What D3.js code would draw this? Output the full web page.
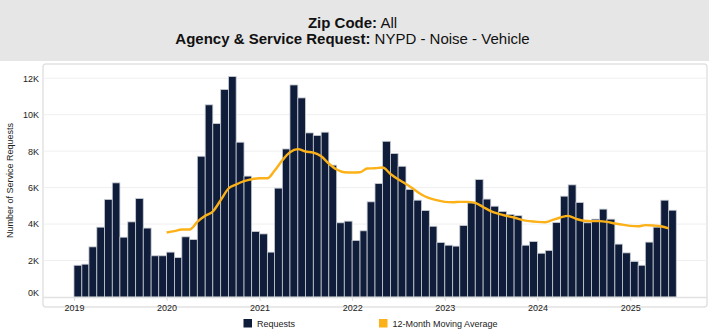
<!DOCTYPE html>
<html>
<head>
<meta charset="utf-8">
<script src="https://cdn.jsdelivr.net/npm/d3@7"></script>
<style>
  html, body { margin: 0; padding: 0; background: #fff; }
  svg { display: block; font-family: "Liberation Sans", Arial, sans-serif; }
</style>
</head>
<body>
<div id="chart"></div>
<script>
// monthly request counts, Jan 2019 .. Jun 2025 (thousands)
var firstMonth = new Date(2019, 0, 1);
var requests = [
  1.74, 1.80, 2.75, 3.83, 5.35, 6.26, 3.28, 4.12, 5.40, 3.78, 2.26, 2.26,
  2.46, 2.16, 3.30, 3.15, 7.72, 10.54, 9.51, 11.38, 12.09, 8.49, 6.63, 3.59,
  3.46, 2.46, 5.97, 8.12, 11.63, 10.92, 9.00, 8.86, 9.04, 7.23, 4.07, 4.16,
  3.10, 3.63, 5.22, 6.22, 8.54, 7.87, 7.17, 5.90, 5.31, 4.74, 3.88, 2.99,
  2.84, 2.79, 3.92, 5.16, 6.44, 5.37, 4.98, 4.69, 4.53, 4.46, 2.84, 3.04,
  2.40, 2.55, 4.08, 5.53, 6.15, 5.18, 4.07, 4.27, 4.82, 4.27, 2.90, 2.42,
  1.95, 1.74, 3.01, 3.83, 5.31, 4.76
];

// 12-month moving average, starts Jan 2020 (thousands)
var maStart = new Date(2020, 0, 1);
var movingAvg = [
  3.54, 3.61, 3.70, 3.70, 4.12, 4.45, 4.69, 5.31, 5.95, 6.17, 6.35, 6.46,
  6.51, 6.51, 6.92, 7.50, 7.94, 8.11, 7.98, 7.92, 7.72, 7.32, 6.99, 6.84,
  6.83, 6.84, 7.05, 7.06, 7.10, 6.75, 6.46, 6.20, 5.91, 5.62, 5.42, 5.31,
  5.22, 5.20, 5.22, 5.22, 5.16, 4.94, 4.71, 4.56, 4.45, 4.36, 4.23, 4.16,
  4.12, 4.10, 4.23, 4.36, 4.45, 4.29, 4.18, 4.16, 4.16, 4.12, 4.03, 3.97,
  3.90, 3.88, 3.94, 3.92, 3.88, 3.76
];

var yTicks = [0, 2, 4, 6, 8, 10, 12];
var xTickYears = [2019, 2020, 2021, 2022, 2023, 2024, 2025];

var width = 709, height = 334;
var plotLeft = 43, plotRight = 707, plotTop = 64, plotBottom = 297;

var barColor = "#0f1d3a";
var lineColor = "#fbb117";

function addMonths(d, n) { return new Date(d.getFullYear(), d.getMonth() + n, 1); }

var svg = d3.select("#chart").append("svg")
    .attr("width", width)
    .attr("height", height);

// header band
svg.append("rect")
  .attr("x", 0).attr("y", 0)
  .attr("width", width).attr("height", 61)
  .attr("fill", "#e6e6e6");

var titles = [
  {bold: "Zip Code:", rest: " All", y: 27.5},
  {bold: "Agency & Service Request:", rest: " NYPD - Noise - Vehicle", y: 44}
];
titles.forEach(function(t) {
  var tx = svg.append("text")
    .attr("x", 352.5)
    .attr("y", t.y)
    .attr("text-anchor", "middle")
    .style("font-size", "15px")
    .attr("fill", "#111");
  tx.append("tspan").attr("font-weight", "bold").text(t.bold);
  tx.append("tspan").text(t.rest);
});

var x = d3.scaleTime()
    .domain([new Date(2018, 8, 1), new Date(2025, 9, 30)])
    .range([plotLeft, plotRight]);

var y = d3.scaleLinear()
    .domain([0, 12.78])
    .range([plotBottom, plotTop]);

// plot frame
svg.append("rect")
  .attr("x", plotLeft).attr("y", plotTop)
  .attr("width", plotRight - plotLeft).attr("height", plotBottom - plotTop + 10)
  .attr("rx", 3)
  .attr("fill", "#fff")
  .attr("stroke", "#e2e2e2")
  .attr("stroke-width", 1.5);

// gridlines
svg.append("g")
  .selectAll("line")
  .data(yTicks.filter(function(d) { return d > 0; }))
  .enter().append("line")
    .attr("x1", plotLeft).attr("x2", plotRight)
    .attr("y1", function(d) { return y(d); })
    .attr("y2", function(d) { return y(d); })
    .attr("stroke", "#efefef")
    .attr("stroke-width", 1);

// bars
svg.append("g")
  .selectAll("rect")
  .data(requests)
  .enter().append("rect")
    .attr("x", function(d, i) { return x(addMonths(firstMonth, i)); })
    .attr("width", function(d, i) { return x(addMonths(firstMonth, i + 1)) - x(addMonths(firstMonth, i)); })
    .attr("y", function(d) { return y(d); })
    .attr("height", function(d) { return plotBottom - y(d); })
    .attr("fill", barColor)
    .attr("stroke", "#c9ccd3")
    .attr("stroke-width", 0.8);

// moving average
var line = d3.line()
    .x(function(d, i) { return x(addMonths(maStart, i)); })
    .y(function(d) { return y(d); })
    .curve(d3.curveMonotoneX);

svg.append("path")
  .datum(movingAvg)
  .attr("d", line)
  .attr("fill", "none")
  .attr("stroke", lineColor)
  .attr("stroke-width", 2.4)
  .attr("stroke-linejoin", "round");

// bottom axis line
svg.append("line")
  .attr("x1", plotLeft).attr("x2", plotRight)
  .attr("y1", plotBottom + 0.5).attr("y2", plotBottom + 0.5)
  .attr("stroke", "#e2e2e2")
  .attr("stroke-width", 1.5);

// y axis
var yAxis = svg.append("g")
  .attr("transform", "translate(" + plotLeft + ",0)")
  .call(d3.axisLeft(y)
    .tickValues(yTicks)
    .tickSize(0)
    .tickPadding(4)
    .tickFormat(function(d) { return d + "K"; }));
yAxis.select(".domain").remove();
yAxis.selectAll("text")
  .style("font-size", "9px")
  .style("font-family", "'Liberation Sans', Arial, sans-serif")
  .attr("fill", "#222")
  .attr("dy", function(d) { return d === 0 ? "-0.15em" : "0.32em"; });

// x axis
var xAxis = svg.append("g")
  .attr("transform", "translate(0," + (plotBottom + 1) + ")")
  .call(d3.axisBottom(x)
    .tickValues(xTickYears.map(function(yr) { return new Date(yr, 0, 1); }))
    .tickSize(3)
    .tickPadding(4)
    .tickFormat(d3.timeFormat("%Y")));
xAxis.select(".domain").remove();
xAxis.selectAll("line").attr("stroke", "#dcdcdc");
xAxis.selectAll("text")
  .style("font-size", "9px")
  .style("font-family", "'Liberation Sans', Arial, sans-serif")
  .attr("fill", "#222");

// y title
svg.append("text")
  .attr("transform", "translate(13," + ((plotTop + plotBottom) / 2) + ") rotate(-90)")
  .attr("text-anchor", "middle")
  .style("font-size", "9px")
  .attr("fill", "#222")
  .text("Number of Service Requests");

// legend
var legend = [
  {label: "Requests", color: barColor, x: 243.5},
  {label: "12-Month Moving Average", color: lineColor, x: 379}
];
var lg = svg.append("g").selectAll("g")
  .data(legend)
  .enter().append("g")
    .attr("transform", function(d) { return "translate(" + d.x + ",319)"; });
lg.append("rect")
  .attr("width", 8.5).attr("height", 8.5)
  .attr("fill", function(d) { return d.color; });
lg.append("text")
  .attr("x", 13.5).attr("y", 8)
  .style("font-size", "9px")
  .attr("fill", "#222")
  .text(function(d) { return d.label; });
</script>
</body>
</html>
